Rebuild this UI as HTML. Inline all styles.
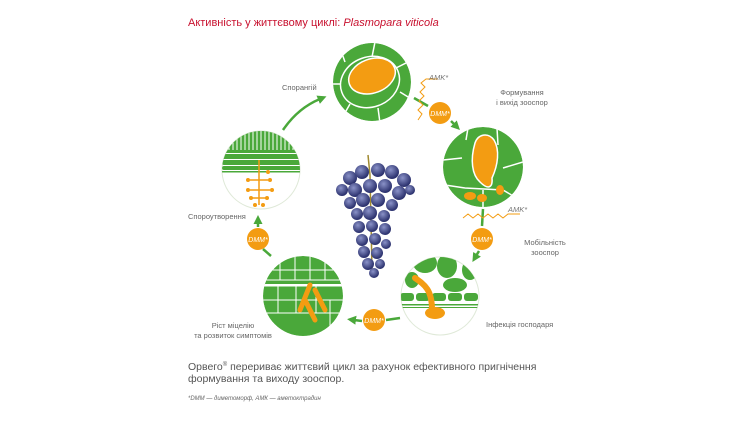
<!DOCTYPE html>
<html><head><meta charset="utf-8"><style>
html,body{margin:0;padding:0;background:#fff;width:750px;height:422px;overflow:hidden}
svg{display:block}
text{font-family:"Liberation Sans",sans-serif}
</style></head><body>
<svg width="750" height="422" viewBox="0 0 750 422" xmlns="http://www.w3.org/2000/svg">
<defs>
<marker id="ah" markerWidth="9" markerHeight="9" refX="2" refY="4.5" orient="auto" markerUnits="userSpaceOnUse"><path d="M0,0 L9,4.5 L0,9 z" fill="#4aa83a"/></marker>
<clipPath id="c1"><circle cx="372" cy="82" r="39"/></clipPath>
<clipPath id="c2"><circle cx="483" cy="167" r="40"/></clipPath>
<clipPath id="c3"><circle cx="440" cy="296" r="39"/></clipPath>
<clipPath id="c4"><circle cx="303" cy="296" r="40"/></clipPath>
<clipPath id="c5"><circle cx="261" cy="170" r="39"/></clipPath>
<radialGradient id="gr" cx="0.4" cy="0.35" r="0.6"><stop offset="0" stop-color="#8a92c8"/><stop offset="1" stop-color="#2e3470"/></radialGradient>
</defs>
<text x="188" y="26" font-size="11" fill="#c8102e">Активність у життєвому циклі: <tspan font-style="italic">Plasmopara viticola</tspan></text>

<!-- top circle -->
<g clip-path="url(#c1)">
<circle cx="372" cy="82" r="39" fill="#4aa83a"/>
<g stroke="#fff" stroke-width="1.5" fill="none">
<ellipse cx="370" cy="82" rx="30" ry="25" transform="rotate(-20 370 82)"/>
<path d="M345,62 L340,48 M372,57 L375,42 M396,68 L412,60 M400,92 L413,100 M378,108 L380,123 M350,104 L342,118 M340,84 L330,84"/>
</g>
<ellipse cx="372" cy="76" rx="24" ry="17" transform="rotate(-20 372 76)" fill="#f39c12" stroke="#fff" stroke-width="1.5"/>
</g>

<!-- right upper -->
<g clip-path="url(#c2)">
<circle cx="483" cy="167" r="40" fill="#4aa83a"/>
<g stroke="#fff" stroke-width="1.5" fill="none">
<path d="M443,160 L462,158 M497,128 L498,145 M523,162 L503,168 M445,185 L465,188 M483,207 L483,190 M503,190 L520,200 M468,128 L466,140 M465,188 L503,190"/>
</g>
<path d="M475,143 C470,160 472,175 480,182 C488,190 493,188 492,178 C498,165 500,150 494,140 C488,132 478,134 475,143z" fill="#f39c12" stroke="#fff" stroke-width="1.5"/>
<ellipse cx="470" cy="196" rx="6" ry="4" fill="#f39c12"/><ellipse cx="482" cy="198" rx="5" ry="4" fill="#f39c12"/><ellipse cx="500" cy="190" rx="4" ry="5" fill="#f39c12"/>
</g>

<!-- right lower -->
<circle cx="440" cy="296" r="39" fill="#fff" stroke="#dfe9d8" stroke-width="1"/>
<g clip-path="url(#c3)" fill="#4aa83a">
<ellipse cx="425" cy="263" rx="12" ry="10"/><ellipse cx="447" cy="266" rx="10" ry="12"/><ellipse cx="470" cy="270" rx="8" ry="10"/>
<ellipse cx="455" cy="285" rx="12" ry="7"/><ellipse cx="412" cy="280" rx="7" ry="8"/>
<rect x="400" y="293" width="14" height="8" rx="3"/><rect x="416" y="293" width="14" height="8" rx="3"/><rect x="432" y="293" width="14" height="8" rx="3"/><rect x="448" y="293" width="14" height="8" rx="3"/><rect x="464" y="293" width="14" height="8" rx="3"/>
<rect x="400" y="304" width="80" height="1.5"/><rect x="400" y="307" width="80" height="1"/>
</g>
<path d="M415,278 C425,285 432,290 432,310" stroke="#f39c12" stroke-width="6" fill="none" stroke-linecap="round"/>
<ellipse cx="435" cy="313" rx="10" ry="6" fill="#f39c12"/>

<!-- left lower -->
<g clip-path="url(#c4)">
<circle cx="303" cy="296" r="40" fill="#4aa83a"/>
<g stroke="#fff" stroke-width="1" fill="none">
<path d="M263,270 L343,270 M263,280 L343,280 M280,256 L280,280 M295,256 L295,280 M310,256 L310,280 M325,256 L325,280"/>
<path d="M263,286 L343,286 M263,300 L343,300 M263,313 L343,313 M278,286 L278,313 M296,286 L296,313 M316,286 L316,313 M330,300 L330,335"/>
</g>
<rect x="263" y="284" width="80" height="2" fill="#fff"/>
<path d="M310,285 L300,310 M315,290 L325,310 M305,300 L315,320" stroke="#f39c12" stroke-width="5" stroke-linecap="round" fill="none"/>
</g>

<!-- left upper -->
<circle cx="261" cy="170" r="39" fill="#fff" stroke="#dfe9d8"/>
<g clip-path="url(#c5)">
<rect x="220" y="131" width="82" height="22" fill="#4aa83a"/>
<g stroke="#fff" stroke-width="1"><path d="M225,131V150M229,131V150M233,131V150M237,131V150M241,131V150M245,131V150M249,131V150M253,131V150M257,131V150M261,131V150M265,131V150M269,131V150M273,131V150M277,131V150M281,131V150M285,131V150M289,131V150M293,131V150M297,131V150"/></g>
<g fill="#4aa83a"><rect x="222" y="154" width="80" height="5" rx="2"/><rect x="222" y="160" width="80" height="5" rx="2"/><rect x="222" y="166" width="80" height="4" rx="2"/></g>
<rect x="220" y="171" width="82" height="1.5" fill="#4aa83a"/>
</g>
<path d="M259,160 V205 M250,180 L268,180 M250,190 L270,190 M252,198 L266,198" stroke="#f39c12" stroke-width="1.5" fill="none"/>
<g fill="#f39c12"><circle cx="248" cy="180" r="2"/><circle cx="270" cy="180" r="2"/><circle cx="248" cy="190" r="2"/><circle cx="272" cy="190" r="2"/><circle cx="251" cy="198" r="2"/><circle cx="267" cy="198" r="2"/><circle cx="255" cy="205" r="2"/><circle cx="263" cy="205" r="2"/><circle cx="268" cy="172" r="2"/></g>

<!-- grapes -->
<path d="M368,155 L370,175 L372,270" stroke="#a08a30" stroke-width="1.5" fill="none"/>
<g fill="url(#gr)">
<circle cx="350" cy="178" r="7"/><circle cx="362" cy="172" r="7"/><circle cx="378" cy="170" r="7"/><circle cx="392" cy="172" r="7"/><circle cx="404" cy="180" r="7"/><circle cx="342" cy="190" r="6"/>
<circle cx="355" cy="190" r="7"/><circle cx="370" cy="186" r="7"/><circle cx="385" cy="186" r="7"/><circle cx="399" cy="193" r="7"/><circle cx="410" cy="190" r="5"/>
<circle cx="350" cy="203" r="6"/><circle cx="363" cy="200" r="7"/><circle cx="378" cy="200" r="7"/><circle cx="392" cy="205" r="6"/>
<circle cx="357" cy="214" r="6"/><circle cx="370" cy="213" r="7"/><circle cx="384" cy="216" r="6"/>
<circle cx="359" cy="227" r="6"/><circle cx="372" cy="226" r="6"/><circle cx="385" cy="229" r="6"/>
<circle cx="362" cy="240" r="6"/><circle cx="375" cy="239" r="6"/><circle cx="386" cy="244" r="5"/>
<circle cx="364" cy="252" r="6"/><circle cx="377" cy="253" r="6"/>
<circle cx="368" cy="264" r="6"/><circle cx="380" cy="264" r="5"/><circle cx="374" cy="273" r="5"/>
</g>

<!-- arrows -->
<g stroke="#4aa83a" stroke-width="2.5" fill="none">
<path d="M283,130 Q298,108 320,99" marker-end="url(#ah)"/>
<path d="M414,98 L428,106" />
<path d="M451,121 L455,125" marker-end="url(#ah)"/>
<path d="M483,209 L482,226" />
<path d="M479,251 L476,256" marker-end="url(#ah)"/>
<path d="M400,318 L386,320" />
<path d="M362,321 L354,320" marker-end="url(#ah)"/>
<path d="M271,256 L263,249" />
<path d="M258,227 L258,222" marker-end="url(#ah)"/>
</g>
<!-- AMK squiggles -->
<path d="M418,120 l4,-6 -4,-4 5,-5 -4,-4 5,-5 -4,-4 5,-5 -4,-4 5,-4 h12" stroke="#f39c12" stroke-width="1" fill="none"/>
<path d="M463,218 l5,-4 5,4 5,-4 5,4 5,-4 5,4 5,-4 5,4 5,-4 h12" stroke="#f39c12" stroke-width="1" fill="none"/>
<text x="429" y="80" font-size="7.5" font-style="italic" fill="#777">AMK*</text>
<text x="508" y="212" font-size="7.5" font-style="italic" fill="#777">AMK*</text>

<!-- DMM badges -->
<g font-size="7" font-style="italic" fill="#fff" text-anchor="middle">
<circle cx="440" cy="113" r="11" fill="#f39c12"/><text x="440" y="116">DMM*</text>
<circle cx="482" cy="239" r="11" fill="#f39c12"/><text x="482" y="242">DMM*</text>
<circle cx="374" cy="320" r="11" fill="#f39c12"/><text x="374" y="323">DMM*</text>
<circle cx="258" cy="239" r="11" fill="#f39c12"/><text x="258" y="242">DMM*</text>
</g>

<!-- labels -->
<g font-size="7.5" fill="#666">
<text x="282" y="90">Спорангій</text>
<text x="522" y="95" text-anchor="middle">Формування</text>
<text x="522" y="105" text-anchor="middle">і вихід зооспор</text>
<text x="545" y="245" text-anchor="middle">Мобільність</text>
<text x="545" y="255" text-anchor="middle">зооспор</text>
<text x="486" y="327">Інфекція господаря</text>
<text x="233" y="328" text-anchor="middle">Ріст міцелію</text>
<text x="233" y="338" text-anchor="middle">та розвиток симптомів</text>
<text x="188" y="219">Спороутворення</text>
</g>
<g font-size="10.5" fill="#555">
<text x="188" y="370">Орвего<tspan font-size="6" dy="-4">®</tspan><tspan dy="4"> перериває життєвий цикл за рахунок ефективного пригнічення</tspan></text>
<text x="188" y="382">формування та виходу зооспор.</text>
</g>
<text x="188" y="400" font-size="6" font-style="italic" fill="#666">*DMM — диметоморф, АМК — аметоктрадин</text>
</svg>
</body></html>
